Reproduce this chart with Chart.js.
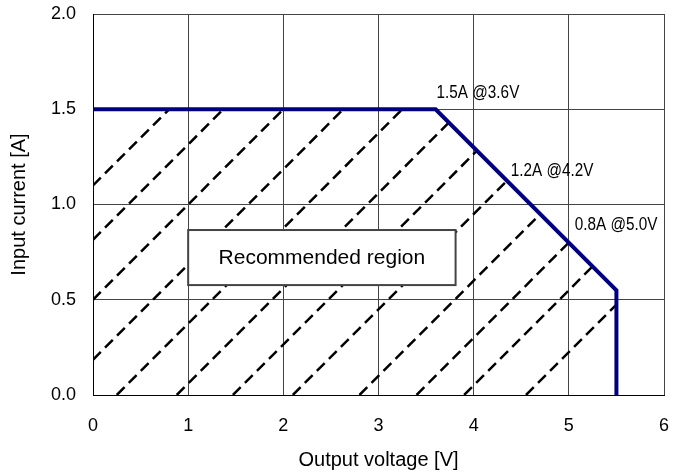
<!DOCTYPE html>
<html>
<head>
<meta charset="utf-8">
<script src="https://cdn.jsdelivr.net/npm/chart.js@4.4.1/dist/chart.umd.min.js"></script>
<style>
  html, body { margin: 0; padding: 0; background: #fff; }
  #wrap { width: 680px; height: 476px; }
</style>
</head>
<body>
<div id="wrap"><canvas id="chart"></canvas></div>
<script>
// outline of the recommended region (V, A)
var voltage = [0, 3.6, 5.5, 5.5];
var current = [1.5, 1.5, 0.55, 0];

// labelled points on the outline
var pointLabels = ['1.5A @3.6V', '1.2A @4.2V', '0.8A @5.0V'];
var pointV = [3.6, 4.2, 5.0];
var pointA = [1.5, 1.2, 0.8];

// hatch lines: voltage where each one crosses 0 A (slope 0.5 A/V)
var hatchOffsets = [-2.2, -1.63, -1.0, -0.37, 0.25, 0.88, 1.47, 2.1, 2.8, 3.4, 3.9, 4.55];

var regionLabel = 'Recommended region';
var xTitle = 'Output voltage [V]';
var yTitle = 'Input current [A]';

var FONT = "'Liberation Sans', Arial, sans-serif";

// clip one hatch line to the region under the outline
function hatchSegment(c) {
    var x0 = Math.max(0, c);
    var start = { x: x0, y: 0.5 * (x0 - c) };
    for (var i = 0; i < voltage.length - 1; i++) {
        var x1 = voltage[i], y1 = current[i], x2 = voltage[i + 1], y2 = current[i + 1];
        if (x2 > x1) {
            var m = (y2 - y1) / (x2 - x1);
            var x = (y1 - m * x1 + 0.5 * c) / (0.5 - m);
            if (x >= x1 && x <= x2) return [start, { x: x, y: 0.5 * (x - c) }];
        } else {
            var y = 0.5 * (x1 - c);
            if (y >= Math.min(y1, y2) && y <= Math.max(y1, y2)) return [start, { x: x1, y: y }];
        }
    }
    return [start, start];
}

var datasets = [{
    data: voltage.map(function (v, i) { return { x: v, y: current[i] }; }),
    showLine: true,
    borderColor: '#000080',
    borderWidth: 4,
    pointRadius: 0,
    borderJoinStyle: 'miter'
}];
hatchOffsets.forEach(function (c) {
    datasets.push({
        data: hatchSegment(c),
        showLine: true,
        borderColor: '#000',
        borderWidth: 2.5,
        borderDash: [11, 6],
        pointRadius: 0
    });
});

// label offsets from their points, in pixels
var labelOffsets = [[1, -16], [18, 5], [6, -18]];

var annotations = {
    id: 'annotations',
    afterDatasetsDraw: function (chart) {
        var ctx = chart.ctx, xs = chart.scales.x, ys = chart.scales.y;
        ctx.save();
        ctx.fillStyle = '#000';
        ctx.textBaseline = 'middle';
        ctx.textAlign = 'left';
        ctx.font = '18px ' + FONT;
        pointLabels.forEach(function (t, i) {
            var px = xs.getPixelForValue(pointV[i]) + labelOffsets[i][0];
            var py = ys.getPixelForValue(pointA[i]) + labelOffsets[i][1];
            ctx.save();
            ctx.translate(px, py);
            ctx.scale(0.85, 1);
            ctx.fillText(t, 0, 0);
            ctx.restore();
        });

        // region label box
        var l = xs.getPixelForValue(1.0), r = xs.getPixelForValue(3.81);
        var t = ys.getPixelForValue(0.866), b = ys.getPixelForValue(0.577);
        ctx.fillStyle = '#fff';
        ctx.fillRect(l, t, r - l, b - t);
        ctx.strokeStyle = '#444';
        ctx.lineWidth = 2;
        ctx.strokeRect(l, t, r - l, b - t);
        ctx.fillStyle = '#000';
        ctx.textAlign = 'center';
        ctx.font = '21px ' + FONT;
        ctx.fillText(regionLabel, (l + r) / 2, (t + b) / 2 + 1);
        ctx.restore();
    }
};

new Chart(document.getElementById('chart'), {
    type: 'scatter',
    data: { datasets: datasets },
    options: {
        responsive: true,
        maintainAspectRatio: false,
        animation: false,
        events: [],
        layout: { padding: { top: 14, right: 16, left: 0, bottom: 0 } },
        plugins: { legend: { display: false }, tooltip: { enabled: false } },
        scales: {
            x: {
                type: 'linear',
                min: 0, max: 6,
                afterFit: function (s) { s.height = 81; s.paddingLeft = 0; s.paddingRight = 0; },
                ticks: { stepSize: 1, padding: 20, color: '#000', font: { family: FONT, size: 18 } },
                grid: { color: '#444', lineWidth: 1, drawTicks: false },
                border: { color: '#000', width: 1 },
                title: { display: true, text: xTitle, color: '#000', font: { family: FONT, size: 20 }, padding: { top: 0, bottom: 4 } }
            },
            y: {
                type: 'linear',
                min: 0, max: 2,
                afterFit: function (s) { s.width = 93; s.paddingTop = 0; s.paddingBottom = 0; },
                ticks: {
                    stepSize: 0.5, padding: 17, color: '#000', font: { family: FONT, size: 18 },
                    callback: function (v) { return v.toFixed(1); }
                },
                grid: { color: '#444', lineWidth: 1, drawTicks: false },
                border: { color: '#000', width: 1 },
                title: { display: true, text: yTitle, color: '#000', font: { family: FONT, size: 20 }, padding: { top: 7, bottom: 0 } }
            }
        }
    },
    plugins: [annotations]
});
</script>
</body>
</html>
